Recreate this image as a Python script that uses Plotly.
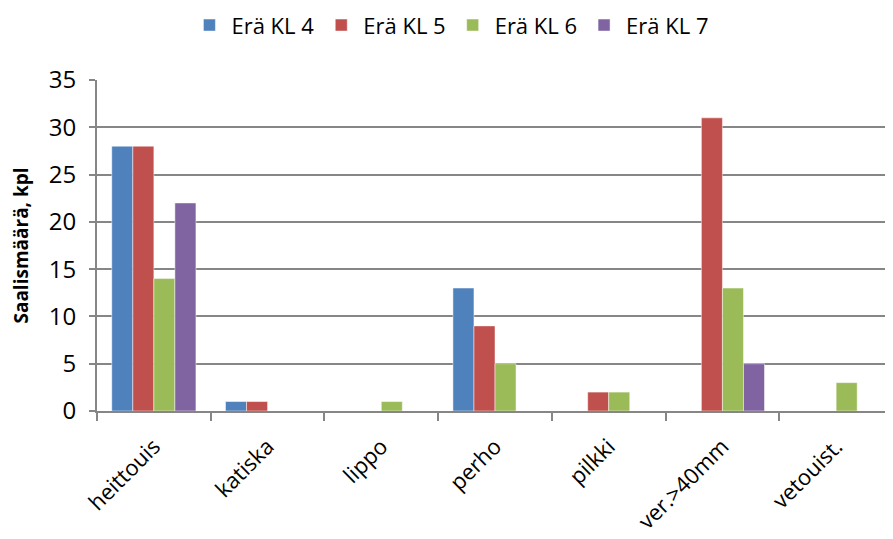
import plotly.graph_objects as go

categories = ["heittouis", "katiska", "lippo", "perho", "pilkki", "ver.>40mm", "vetouist."]
series_names = ["Erä KL 4", "Erä KL 5", "Erä KL 6", "Erä KL 7"]
kl4 = [28, 1, 0, 13, 0, 0, 0]
kl5 = [28, 1, 0, 9, 2, 31, 0]
kl6 = [14, 0, 1, 5, 2, 13, 3]
kl7 = [22, 0, 0, 0, 0, 5, 0]
y_ticks = [0, 5, 10, 15, 20, 25, 30, 35]
y_title = "Saalismäärä, kpl"

colors = ["#4F81BD", "#C0504D", "#9BBB59", "#8064A2"]
font_family = "Open Sans, Liberation Sans, sans-serif"

fig = go.Figure()
for name, vals, col in zip(series_names, [kl4, kl5, kl6, kl7], colors):
    fig.add_trace(go.Bar(
        x=categories, y=vals, name=name,
        marker=dict(color=col, line=dict(color="rgba(255,255,255,0.6)", width=0.8)),
    ))

fig.update_layout(
    width=893, height=539,
    margin=dict(l=89, r=8, t=72, b=136, autoexpand=False),
    paper_bgcolor="white", plot_bgcolor="white",
    barmode="group", bargap=0.26, bargroupgap=0,
    font=dict(family=font_family, size=22, color="black"),
    legend=dict(orientation="h", xref="container", x=0.496, xanchor="center",
                yref="container", y=0.968, yanchor="middle",
                font=dict(size=22), traceorder="normal", itemwidth=34),
    showlegend=True,
)
fig.update_xaxes(
    showline=True, linecolor="#868686", linewidth=2,
    ticks="outside", tickson="boundaries", ticklen=8, tickcolor="#868686", tickwidth=2,
    tickangle=-45, tickfont=dict(size=22), ticklabelstandoff=12,
    showgrid=False, automargin=False,
)
fig.update_yaxes(
    range=[0, 35], tickvals=y_ticks,
    showline=True, linecolor="#868686", linewidth=2,
    ticks="outside", ticklen=6, tickcolor="#868686", tickwidth=2,
    showgrid=True, gridcolor="#868686", gridwidth=1.5,
    tickfont=dict(size=24), ticklabelstandoff=8,
    title=dict(text="<b>" + y_title + "</b>", font=dict(size=19), standoff=18),
    zeroline=False, automargin=False,
)

fig.write_html("out.html")
